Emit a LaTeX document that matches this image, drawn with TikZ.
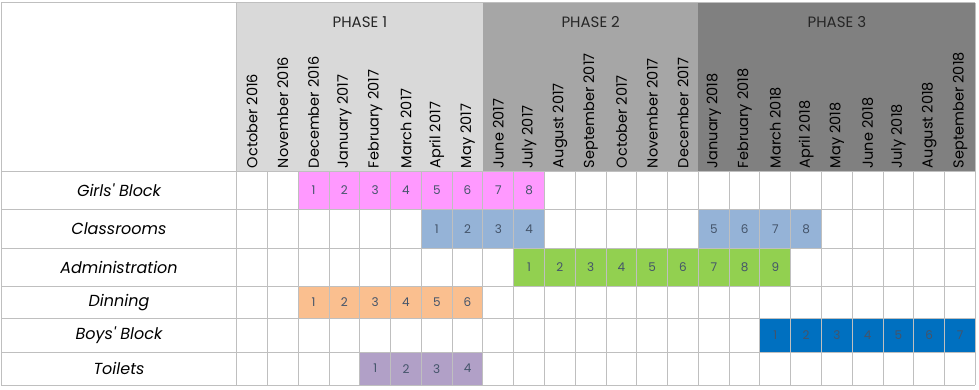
\documentclass[tikz,border=0pt]{standalone}
\usepackage{fontspec}
\setmainfont{Poppins}
\usetikzlibrary{positioning}
\definecolor{gridgray}{RGB}{191,191,191}
\definecolor{phaseone}{RGB}{217,217,217}
\definecolor{phasetwo}{RGB}{166,166,166}
\definecolor{phasethree}{RGB}{128,128,128}
\definecolor{girlspink}{RGB}{255,153,255}
\definecolor{classblue}{RGB}{149,179,215}
\definecolor{admingreen}{RGB}{146,208,80}
\definecolor{dinorange}{RGB}{250,191,143}
\definecolor{toiletpurple}{RGB}{177,160,199}
\definecolor{boysblue}{RGB}{0,112,192}
\definecolor{numslate}{RGB}{68,84,106}
\newcommand{\colw}{30.78} % width of one month
\newcommand{\gridx}{236.7} % left edge of the months

\begin{document}
\begin{tikzpicture}[
                x = 1pt, y = -1pt, % pixel-like units, y going down
                line width = 1pt,
                gridline/.style = {draw = gridgray},
                month/.style = {rotate = 90, anchor = west, inner sep = 1pt,
                    font = \fontsize{14.5}{16}\selectfont},
                phase/.style = {font = \fontsize{15}{17}\selectfont, text = black!85},
                task/.style = {font = \fontsize{16}{18}\selectfont\itshape},
                cellnum/.style = {font = \fontsize{12}{14}\selectfont, text = numslate}
                ]
                \useasboundingbox (0,0) rectangle (979,389);

                % phase backgrounds
                \fill[phaseone] (\gridx,2.7) rectangle ({\gridx+8*\colw},171.7);
                \fill[phasetwo] ({\gridx+8*\colw},2.7) rectangle ({\gridx+15*\colw},171.7);
                \fill[phasethree] ({\gridx+15*\colw},2.7) rectangle ({\gridx+24*\colw},171.7);

                \node[phase] (ph1) at ({\gridx+4*\colw},22) {PHASE 1};
                \node[phase] (ph2) at ({\gridx+11.5*\colw},22) {PHASE 2};
                \node[phase] (ph3) at ({\gridx+19.5*\colw},22) {PHASE 3};

                \foreach \m [count=\i from 0] in {October 2016, November 2016,
                    December 2016, January 2017, February 2017, March 2017,
                    April 2017, May 2017, June 2017, July 2017, August 2017,
                    September 2017, October 2017, November 2017, December 2017,
                    January 2018, February 2018, March 2018, April 2018,
                    May 2018, June 2018, July 2018, August 2018, September 2018}
                    \node[month] (m\i) at ({\gridx+(\i+0.5)*\colw},169.5) {\m};

                % task rows
                \foreach \lbl/\t/\b [count=\i] in {Girls\textquotesingle{} Block/171.7/209.3,
                    Classrooms/209.3/248.7, Administration/248.7/286.3,
                    Dinning/286.3/318.3, Boys\textquotesingle{} Block/318.3/352.3,
                    Toilets/352.3/385}
                    \node[task] (r\i) at (119,{(\t+\b)/2}) {\lbl};

                % coloured months: row/top/bottom/first/last/start/colour
                \foreach \r/\t/\b/\a/\e/\s/\clr in {1/171.7/209.3/2/9/1/girlspink,
                    2/209.3/248.7/6/9/1/classblue, 2/209.3/248.7/15/18/5/classblue,
                    3/248.7/286.3/9/17/1/admingreen, 4/286.3/318.3/2/7/1/dinorange,
                    5/318.3/352.3/17/23/1/boysblue, 6/352.3/385/4/7/1/toiletpurple} {
                    \fill[\clr] ({\gridx+\a*\colw},\t) rectangle ({\gridx+(\e+1)*\colw},\b);
                    \foreach \k in {\a,...,\e} {
                        \pgfmathtruncatemacro{\n}{\k-\a+\s}
                        \node[cellnum] (c\r-\k) at ({\gridx+(\k+0.5)*\colw},{(\t+\b)/2}) {\n};
                    }
                }

                % grid
                \foreach \y in {2.7, 171.7, 209.3, 248.7, 286.3, 318.3, 352.3, 385}
                    \draw[gridline] (1,\y) -- ({\gridx+24*\colw},\y);
                \draw[gridline] (1,2.7) -- (1,385);
                \draw[gridline] (\gridx,2.7) -- (\gridx,385);
                \draw[gridline] ({\gridx+24*\colw},2.7) -- ({\gridx+24*\colw},385);
                \foreach \k in {1,...,23}
                    \draw[gridline] ({\gridx+\k*\colw},171.7) -- ({\gridx+\k*\colw},385);
            \end{tikzpicture}
\end{document}
